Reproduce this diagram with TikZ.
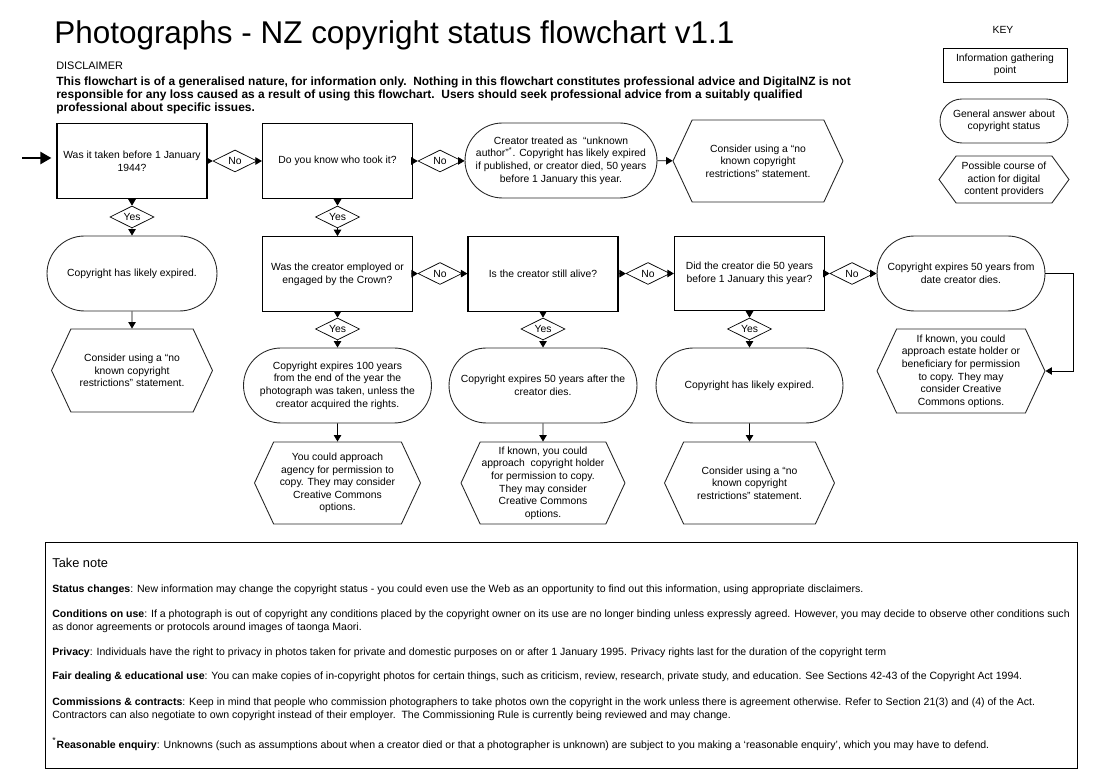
\documentclass[tikz,border=0pt]{standalone}
\usepackage{fontspec}
\setmainfont{Liberation Sans}
\usetikzlibrary{arrows.meta,shapes.geometric,shapes.misc,shapes.symbols}

\newcommand{\boxfont}{\fontsize{5.9}{7.2}\selectfont}
\newcommand{\notefont}{\fontsize{6}{7.4}\selectfont}

\begin{document}
\begin{tikzpicture}[x=0.02cm, y=-0.02cm, >={Triangle[length=1.3mm, width=1.5mm]},
	every node/.style={font=\boxfont, align=center, inner sep=0pt},
	qbox/.style={draw, line width=0.7pt, minimum width=3cm, minimum height=1.49cm},
	answer/.style={draw=black!85, line width=0.5pt, rounded rectangle, minimum width=#1, minimum height=1.5cm},
	answer/.default=3.4cm,
	action/.style={draw=black!85, line width=0.5pt, signal, signal to=east and west, signal pointer angle=130, minimum width=#1, minimum height=1.64cm},
	action/.default=3.4cm,
	choice/.style={draw, line width=0.4pt, diamond, aspect=2, minimum width=0.88cm, minimum height=0.44cm},
	link/.style={->, line width=0.5pt}]
	\useasboundingbox (0,0) rectangle (1106,783);
	\node[anchor=base west, font=\fontsize{17.9}{20}\selectfont] (title) at (54,44) {Photographs - NZ copyright status flowchart v1.1};
	\node[anchor=base west, font=\fontsize{6.2}{7.6}\selectfont] (dischead) at (56,70) {DISCLAIMER};
	\node[anchor=north west, align=left, font=\bfseries\fontsize{6.8}{7.65}\selectfont] (disclaimer) at (56,76) {This flowchart is of a generalised nature, for information only.\ \ Nothing in this flowchart constitutes professional advice and DigitalNZ is not\\responsible for any loss caused as a result of using this flowchart.\ \ Users should seek professional advice from a suitably qualified\\professional about specific issues.};
	% key
	\node (keyhead) at (1003,30) {KEY};
	\node[qbox, line width=0.5pt, minimum width=2.48cm, minimum height=0.68cm] (keyq) at (1005,65) {Information gathering\\point};
	\node[answer=2.56cm, minimum height=0.88cm] (keya) at (1004,121) {General answer about\\copyright status};
	\node[action=2.6cm, minimum height=0.94cm, signal pointer angle=108] (keyc) at (1004,179.5) {Possible course of\\action for digital\\content providers};
	% questions
	\node[qbox] (taken) at (132,161) {Was it taken before 1 January\\1944?};
	\node[qbox] (know) at (337.5,161) {Do you know who took it?};
	\node[qbox] (crown) at (337.5,274) {Was the creator employed or\\engaged by the Crown?};
	\node[qbox] (alive) at (543,274) {Is the creator still alive?};
	\node[qbox] (died) at (749.5,273.5) {Did the creator die 50 years\\before 1 January this year?};
	% answers
	\node[answer=3.84cm] (unknown) at (561,160.5) {Creator treated as\ \ “unknown\\author”\textsuperscript{*}. Copyright has likely expired\\if published, or creator died, 50 years\\before 1 January this year.};
	\node[answer] (expired1) at (132,273.5) {Copyright has likely expired.};
	\node[answer=3.36cm] (fromdeath) at (961,273.5) {Copyright expires 50 years from\\date creator dies.};
	\node[answer=3.76cm] (hundred) at (337.5,385.5) {Copyright expires 100 years\\from the end of the year the\\photograph was taken, unless the\\creator acquired the rights.};
	\node[answer=3.76cm] (fifty) at (543,385.5) {Copyright expires 50 years after the\\creator dies.};
	\node[answer=3.74cm] (expired2) at (749.5,385.5) {Copyright has likely expired.};
	% actions
	\node[action] (nkcr1) at (758,161) {Consider using a “no\\known copyright\\restrictions” statement.};
	\node[action=3.22cm, minimum height=1.66cm] (nkcr2) at (132,370.5) {Consider using a “no\\known copyright\\restrictions” statement.};
	\node[action=3.36cm, minimum height=1.68cm] (estate) at (961,371) {If known, you could\\approach estate holder or\\beneficiary for permission\\to copy. They may\\consider Creative\\Commons options.};
	\node[action=3.32cm] (agency) at (337.5,483) {You could approach\\agency for permission to\\copy. They may consider\\Creative Commons\\options.};
	\node[action=3.28cm] (holder) at (543,483) {If known, you could\\approach\ \ copyright holder\\for permission to copy.\\They may consider\\Creative Commons\\options.};
	\node[action] (nkcr3) at (749.5,483) {Consider using a “no\\known copyright\\restrictions” statement.};
	% yes / no
	\node[choice] (no1) at (235,161) {No};
	\node[choice] (no2) at (440,161) {No};
	\node[choice] (no3) at (440,273.5) {No};
	\node[choice] (no4) at (648,273.5) {No};
	\node[choice] (no5) at (852,273.5) {No};
	\node[choice] (yes1) at (132,217) {Yes};
	\node[choice] (yes2) at (337.5,217) {Yes};
	\node[choice] (yes3) at (337.5,329) {Yes};
	\node[choice] (yes4) at (543,329) {Yes};
	\node[choice] (yes5) at (749.5,329) {Yes};
	% arrows
	\coordinate (entry) at (22,158);
	\draw[->, line width=1.3pt, >={Triangle[length=2.2mm, width=2.4mm]}] (entry) -- ([xshift=-0.1cm]entry -| taken.west);
	\foreach \a/\b in {taken/no1, no1/know, know/no2, no2/unknown, unknown/nkcr1,
		taken/yes1, yes1/expired1, expired1/nkcr2, know/yes2, yes2/crown,
		crown/no3, no3/alive, alive/no4, no4/died, died/no5, no5/fromdeath,
		crown/yes3, yes3/hundred, hundred/agency, alive/yes4, yes4/fifty, fifty/holder,
		died/yes5, yes5/expired2, expired2/nkcr3}
		\draw[link] (\a) -- (\b);
	\draw[link] (fromdeath.east) -- ++(28,0) |- (estate.east);
	% take note
	\node[draw, line width=0.6pt, minimum width=20.64cm, minimum height=4.52cm, anchor=north west] (notes) at (45,542) {};
	\node[anchor=west, font=\fontsize{7.3}{8.5}\selectfont] (takenote) at (52,563) {Take note};
	\node[anchor=west, font=\notefont] (status) at (52,590) {\textbf{Status changes}: New information may change the copyright status - you could even use the Web as an opportunity to find out this information, using appropriate disclaimers.};
	\node[anchor=west, align=left, font=\notefont] (conditions) at (52,621) {\textbf{Conditions on use}: If a photograph is out of copyright any conditions placed by the copyright owner on its use are no longer binding unless expressly agreed. However, you may decide to observe other conditions such\\as donor agreements or protocols around images of taonga Maori.};
	\node[anchor=west, font=\notefont] (privacy) at (52,653) {\textbf{Privacy}: Individuals have the right to privacy in photos taken for private and domestic purposes on or after 1 January 1995. Privacy rights last for the duration of the copyright term};
	\node[anchor=west, font=\notefont] (fair) at (52,677) {\textbf{Fair dealing \& educational use}: You can make copies of in-copyright photos for certain things, such as criticism, review, research, private study, and education. See Sections 42-43 of the Copyright Act 1994.};
	\node[anchor=west, align=left, font=\notefont] (commissions) at (52,709) {\textbf{Commissions \& contracts}: Keep in mind that people who commission photographers to take photos own the copyright in the work unless there is agreement otherwise. Refer to Section 21(3) and (4) of the Act.\\Contractors can also negotiate to own copyright instead of their employer.\ \ The Commissioning Rule is currently being reviewed and may change.};
	\node[anchor=west, font=\notefont] (enquiry) at (52,744) {\textsuperscript{*}\textbf{Reasonable enquiry}: Unknowns (such as assumptions about when a creator died or that a photographer is unknown) are subject to you making a ‘reasonable enquiry’, which you may have to defend.};
\end{tikzpicture}
\end{document}
